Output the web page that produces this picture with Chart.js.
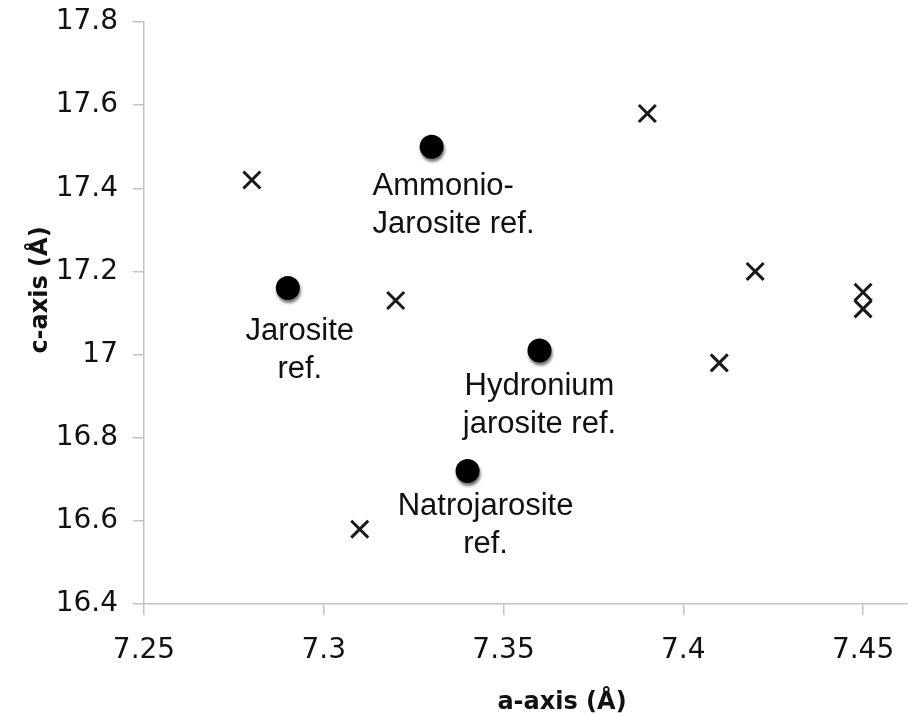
<!DOCTYPE html>
<html>
<head>
<meta charset="utf-8">
<script src="https://cdn.jsdelivr.net/npm/chart.js@4.4.1/dist/chart.umd.min.js"></script>
<style>
  html, body { margin: 0; padding: 0; background: #fff; }
  #wrap { width: 908px; height: 717px; position: relative; }
</style>
</head>
<body>
<div id="wrap"><canvas id="myChart"></canvas></div>
<script>
// muestras (cruces)
const sampleA = [7.28, 7.39, 7.32, 7.42, 7.45, 7.45, 7.41, 7.31];
const sampleC = [17.42, 17.58, 17.13, 17.20, 17.15, 17.11, 16.98, 16.58];

// referencias (circulos)
const refNames = [['Ammonio-', 'Jarosite ref.'], ['Jarosite', 'ref.'], ['Hydronium', 'jarosite ref.'], ['Natrojarosite', 'ref.']];
const refA = [7.33, 7.29, 7.36, 7.34];
const refC = [17.50, 17.16, 17.01, 16.72];

const xTicks = [7.25, 7.3, 7.35, 7.4, 7.45];
const yTicks = [16.4, 16.6, 16.8, 17, 17.2, 17.4, 17.6, 17.8];

// where each label sits relative to its point: dx, dy of first line, alignment
const labelPos = [
    { dx: -59, dy: 40, align: 'left' },
    { dx: 12, dy: 43, align: 'center' },
    { dx: 0, dy: 36, align: 'center' },
    { dx: 18, dy: 35, align: 'center' }
];

const axisGrey = '#c3c3c3';

const refLabels = {
    id: 'refLabels',
    beforeDatasetDraw(chart, args) {
        if (args.index === 1) {
            const ctx = chart.ctx;
            ctx.save();
            ctx.shadowColor = 'rgba(0,0,0,0.55)';
            ctx.shadowOffsetX = 1;
            ctx.shadowOffsetY = 3;
            ctx.shadowBlur = 3;
        }
    },
    afterDatasetDraw(chart, args) {
        if (args.index === 1) chart.ctx.restore();
    },
    afterDraw(chart) {
        const ctx = chart.ctx;
        const meta = chart.getDatasetMeta(1);
        ctx.save();
        ctx.fillStyle = '#111';
        ctx.font = '31px "Liberation Sans", Arial, sans-serif';
        ctx.textBaseline = 'middle';
        meta.data.forEach((pt, i) => {
            const p = labelPos[i];
            ctx.textAlign = p.align;
            refNames[i].forEach((line, j) => {
                ctx.fillText(line, pt.x + p.dx, pt.y + p.dy + j * 38);
            });
        });

        // titulos de ejes
        ctx.font = 'bold 24px "DejaVu Sans", Verdana, sans-serif';
        ctx.textAlign = 'center';
        ctx.fillText('a-axis (Å)', 562, 703);
        ctx.translate(41, 290);
        ctx.rotate(-Math.PI / 2);
        ctx.fillText('c-axis (Å)', 0, 0);
        ctx.restore();
    }
};

const noPad = scale => {
    scale.paddingLeft = 0;
    scale.paddingRight = 0;
    scale.paddingTop = 0;
    scale.paddingBottom = 0;
};

const ctx = document.getElementById('myChart').getContext('2d');
const myChart = new Chart(ctx, {
    type: 'scatter',
    data: {
        datasets: [{
            label: 'Samples',
            data: sampleA.map((a, i) => ({ x: a, y: sampleC[i] })),
            pointStyle: 'crossRot',
            pointRadius: 12,
            pointHoverRadius: 12,
            borderColor: '#1a1a1a',
            borderWidth: 3
        }, {
            label: 'References',
            data: refA.map((a, i) => ({ x: a, y: refC[i] })),
            pointStyle: 'circle',
            pointRadius: 12,
            pointHoverRadius: 12,
            backgroundColor: '#000',
            borderColor: '#000',
            borderWidth: 0
        }]
    },
    options: {
        responsive: true,
        maintainAspectRatio: false,
        animation: false,
        layout: { autoPadding: false, padding: { top: 22, right: 0, left: 0, bottom: 0 } },
        plugins: {
            legend: { display: false },
            tooltip: { enabled: false }
        },
        scales: {
            x: {
                type: 'linear',
                min: 7.25,
                max: 7.4625,
                afterBuildTicks: scale => { scale.ticks = xTicks.map(v => ({ value: v })); },
                afterFit: scale => { scale.height = 113; noPad(scale); },
                border: { display: true, color: axisGrey, width: 1.5 },
                grid: { drawOnChartArea: false, drawTicks: true, tickLength: 11, color: axisGrey, lineWidth: 1.5 },
                ticks: {
                    padding: 19,
                    color: '#111',
                    font: { family: '"DejaVu Sans", Verdana, sans-serif', size: 28 },
                    callback: v => String(v)
                }
            },
            y: {
                type: 'linear',
                min: 16.4,
                max: 17.8,
                afterBuildTicks: scale => { scale.ticks = yTicks.map(v => ({ value: v })); },
                afterFit: scale => { scale.width = 144; noPad(scale); },
                border: { display: true, color: axisGrey, width: 1.5 },
                grid: { drawOnChartArea: false, drawTicks: true, tickLength: 11, color: axisGrey, lineWidth: 1.5 },
                ticks: {
                    padding: 15,
                    color: '#111',
                    font: { family: '"DejaVu Sans", Verdana, sans-serif', size: 28 },
                    callback: v => String(v)
                }
            }
        }
    },
    plugins: [refLabels]
});
</script>
</body>
</html>
